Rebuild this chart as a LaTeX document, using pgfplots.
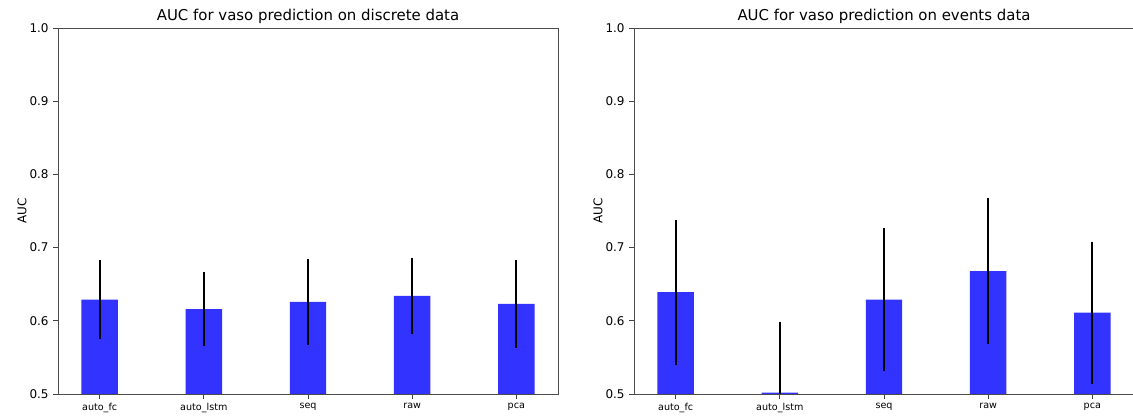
\documentclass[border=0pt]{standalone}
\usepackage{fontspec}
\setmainfont{DejaVu Sans}
\usepackage{pgfplots}
\usepackage{pgfplotstable}
\pgfplotsset{compat=1.18}

\definecolor{barblue}{RGB}{51,51,255}

% mean AUC and std per feature set
\pgfplotstableread{
x  y      e
0  0.629  0.054
1  0.616  0.051
2  0.626  0.059
3  0.634  0.052
4  0.623  0.060
}\discretedata
\pgfplotstableread{
x  y      e
0  0.639  0.099
1  0.502  0.097
2  0.629  0.098
3  0.668  0.100
4  0.611  0.097
}\eventsdata

\pgfplotsset{
  aucbars/.style={
    scale only axis,
    width=375pt, height=274.5pt,
    xmin=-0.4, xmax=4.4, ymin=0.5, ymax=1.0,
    xtick={0,1,2,3,4},
    xticklabels={auto\_fc, auto\_lstm, seq, raw, pca},
    ytick={0.5,0.6,0.7,0.8,0.9,1.0},
    minor tick num=0,
    xtick pos=left, ytick pos=left,
    tick align=outside,
    major tick length=3.5pt,
    tick style={black!75, line width=0.7pt},
    axis line style={black!70, line width=0.7pt},
    /pgf/number format/assume math mode=true,
    yticklabel style={/pgf/number format/fixed, /pgf/number format/fixed zerofill,
      /pgf/number format/precision=1, font=\fontsize{9}{11}\selectfont},
    xticklabel style={font=\fontsize{7.2}{8.5}\selectfont},
    ylabel={AUC},
    every axis y label/.style={at={(axis description cs:-0.072,0.5)}, rotate=90, anchor=center, font=\fontsize{9}{11}\selectfont},
    every axis title/.style={at={(axis description cs:0.5,1)}, anchor=base, yshift=5.5pt, font=\fontsize{11.2}{13}\selectfont},
    error bars/y dir=both,
    error bars/y explicit,
    error bars/error mark=none,
    error bars/error bar style={black, line width=1.5pt},
  }
}

\begin{document}
\begin{tikzpicture}
\useasboundingbox (0,0) rectangle (849.75pt,312.75pt);
\clip (0,0) rectangle (849.75pt,312.75pt);

\begin{axis}[aucbars, at={(43.5pt,17.25pt)}, anchor=south west,
  title={AUC for vaso prediction on discrete data}]
  \addplot[ybar, bar width=0.35, fill=barblue, draw=none] table[x=x, y=y, y error=e] {\discretedata};
\end{axis}

\begin{axis}[aucbars, at={(475.5pt,17.25pt)}, anchor=south west,
  title={AUC for vaso prediction on events data}]
  \addplot[ybar, bar width=0.35, fill=barblue, draw=none] table[x=x, y=y, y error=e] {\eventsdata};
\end{axis}
\end{tikzpicture}
\end{document}
